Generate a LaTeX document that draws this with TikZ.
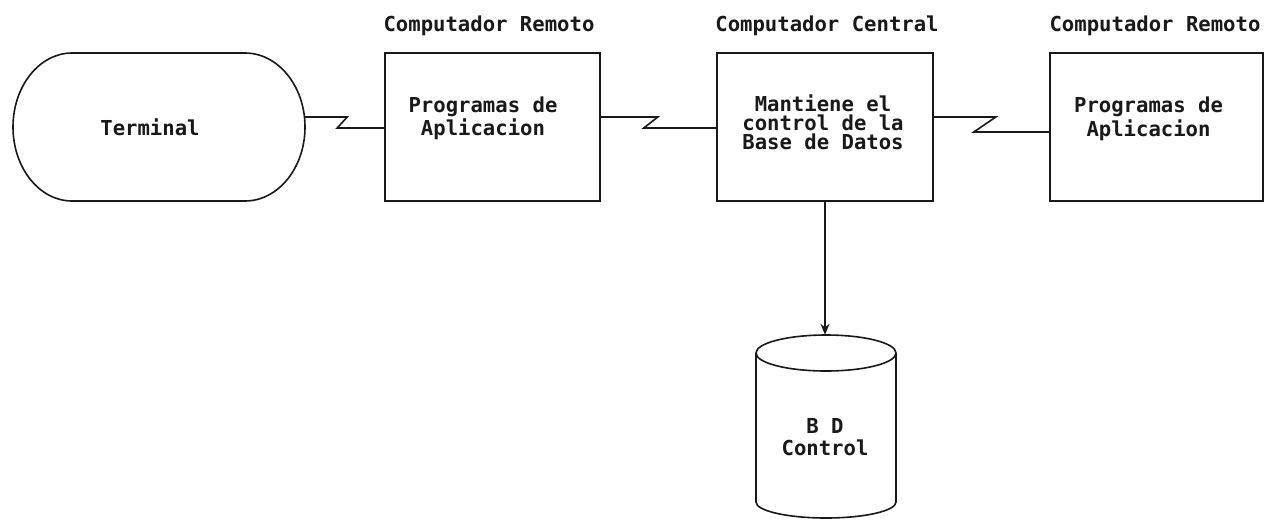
\documentclass[tikz,border=0pt]{standalone}
\usepackage{fontspec}
\setmonofont{DejaVu Sans Mono}
\usetikzlibrary{arrows.meta}
\tikzset{
  ln/.style={line width=1.6pt, draw=black!90},
  boxshape/.style={ln, rectangle, minimum height=148pt, inner sep=0pt},
  ghost/.style={rectangle, inner sep=0pt},
  txt/.style={font=\ttfamily\bfseries\fontsize{20.6}{20}\selectfont, anchor=base, inner sep=0pt, text=black!90, align=center},
  zz/.style={ln, line join=miter}
}
\begin{document}
\begin{tikzpicture}[x=1pt,y=-1pt]
\useasboundingbox[fill=white] (0,0) rectangle (1269,520);

% Terminal (stadium shape with elliptical ends)
\node[ghost, minimum width=292pt, minimum height=148pt] (term) at (159,127) {};
\draw[ln] (72,53) -- (245,53)
  arc[start angle=90, end angle=-90, x radius=60pt, y radius=74pt]
  -- (72,201)
  arc[start angle=270, end angle=90, x radius=59pt, y radius=74pt] -- cycle;
\node[txt] (tterm) at (150,135) {Terminal};

% Boxes
\node[boxshape, minimum width=215pt] (box1) at (492.5,127) {};
\node[boxshape, minimum width=216pt] (cent) at (825,127) {};
\node[boxshape, minimum width=213pt] (right) at (1156.5,127) {};

% Labels above boxes
\node[txt] (lab1) at (489,31) {Computador Remoto};
\node[txt] (lab2) at (827,31) {Computador Central};
\node[txt] (lab3) at (1155,31) {Computador Remoto};

% Box texts (anchor = baseline of the last line)
\node[txt, font=\ttfamily\bfseries\fontsize{20.6}{23}\selectfont] (b1) at (483,135) {Programas de\\Aplicacion};
\node[txt, font=\ttfamily\bfseries\fontsize{20.6}{19}\selectfont] (c1) at (823,149) {Mantiene el\\control de la\\Base de Datos};
\node[txt, font=\ttfamily\bfseries\fontsize{20.6}{24}\selectfont] (r1) at (1148.5,136) {Programas de\\Aplicacion};

% Database cylinder
\node[ghost, minimum width=140pt, minimum height=183pt] (db) at (826,426.5) {};
\draw[ln] (826,353) ellipse [x radius=70pt, y radius=18pt];
\draw[ln] (756,353) -- (756,502)
  arc[start angle=180, end angle=360, x radius=70pt, y radius=16pt]
  -- (896,353);
\node[txt, font=\ttfamily\bfseries\fontsize{20.6}{22}\selectfont] (d1) at (825,455) {B D\\Control};

% Connectors (communication links)
\draw[zz] ([yshift=10pt]term.east) -- ++(42,0) -- ++(-10,11) -- ([yshift=-1pt]box1.west);
\draw[zz] ([yshift=10pt]box1.east) -- ++(57,0) -- ++(-14,11) -- ([yshift=-1pt]cent.west);
\draw[zz] ([yshift=10pt]cent.east) -- ++(62,0) -- ++(-22,15) -- ([yshift=-5pt]right.west);

% Arrow to database
\draw[ln, -{Stealth[length=11pt, width=9pt]}] (cent.south) -- (cent.south |- db.north);
\end{tikzpicture}
\end{document}
